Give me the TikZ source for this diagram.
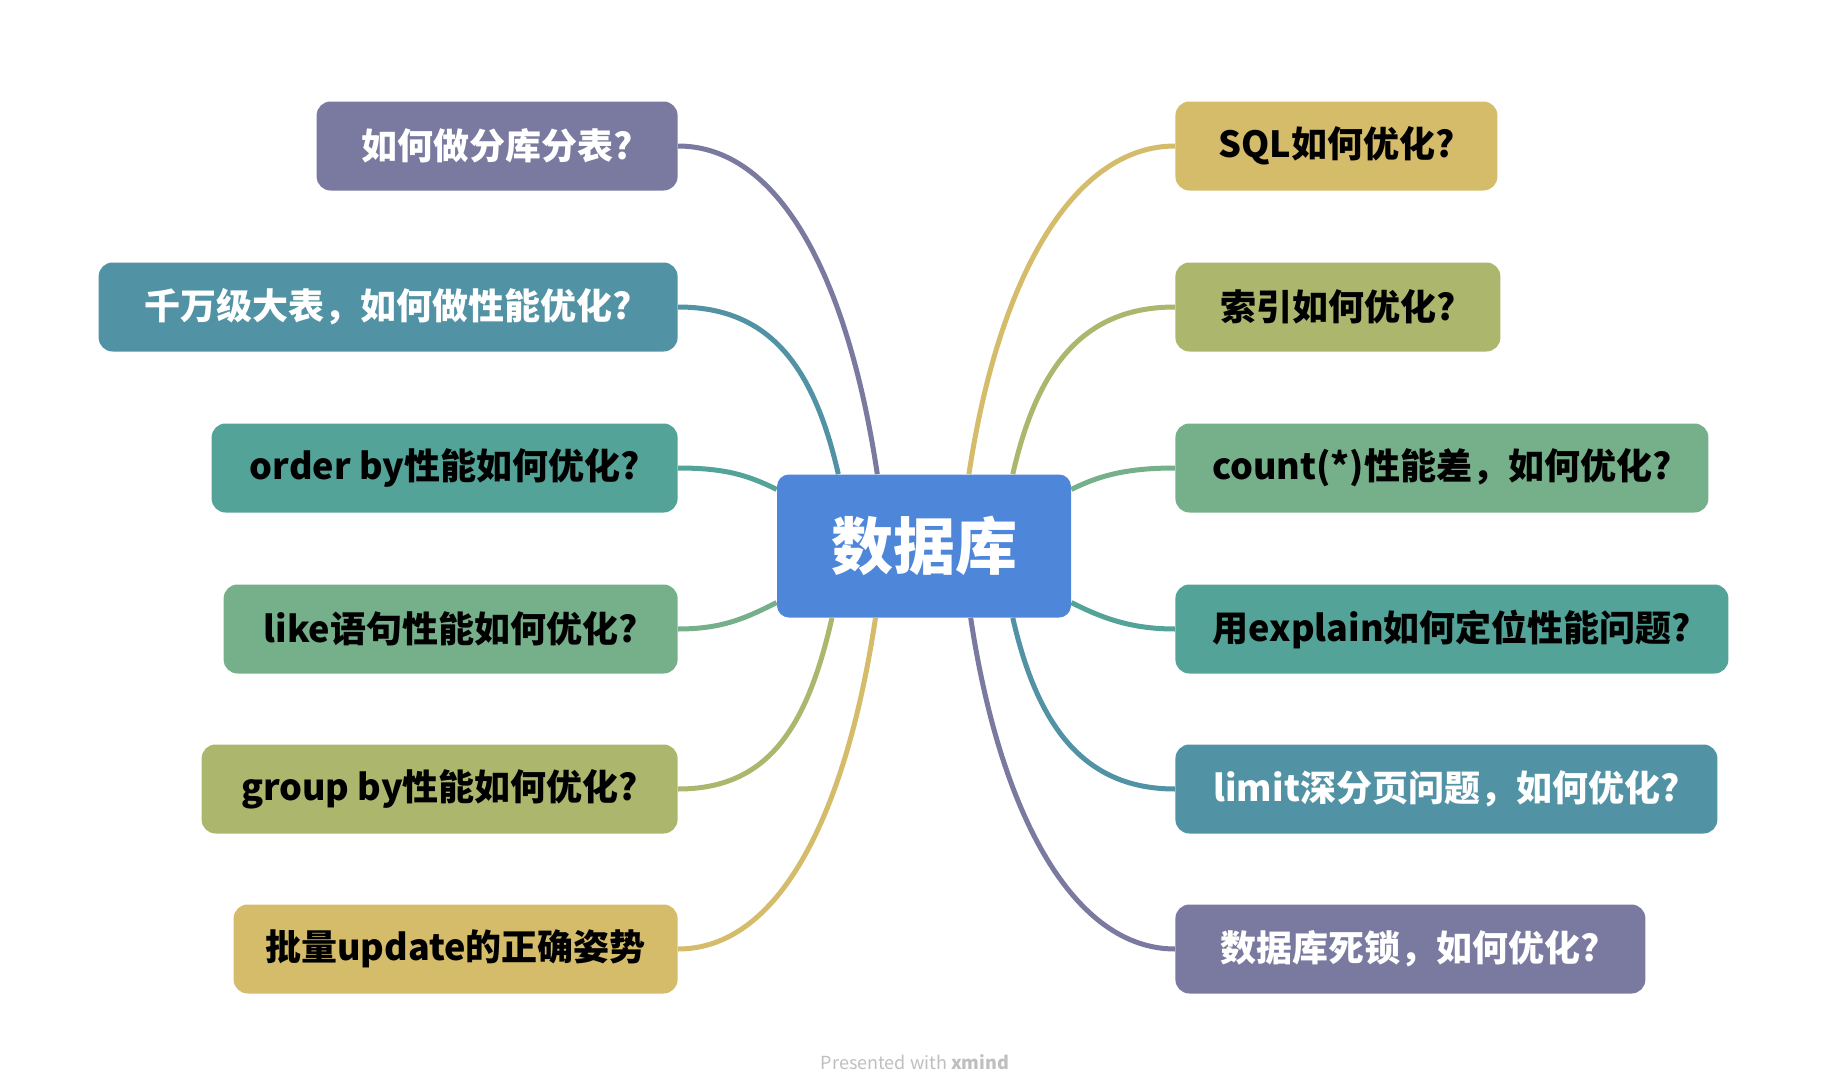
\documentclass[tikz,border=0pt]{standalone}
\usepackage{fontspec}
\setmainfont{Noto Sans CJK SC}
\definecolor{cpurple}{HTML}{7A7AA1}
\definecolor{cblue}{HTML}{5193A5}
\definecolor{cteal}{HTML}{53A398}
\definecolor{cgreen}{HTML}{76B08A}
\definecolor{colive}{HTML}{ADB66D}
\definecolor{cgold}{HTML}{D4BC6B}
\definecolor{cmain}{HTML}{4E86D9}
\begin{document}
\begin{tikzpicture}[x=0.5pt,y=-0.5pt,box/.style={rounded corners=7pt,inner sep=0pt,minimum height=44.5pt,font=\fontsize{18}{18}\selectfont\bfseries},link/.style={line width=2.5pt}]
    \useasboundingbox (0,0) rectangle (1822,1092);
    \node[box,fill=cmain,text=white,minimum width=147pt,minimum height=71.5pt,rounded corners=6pt,font=\fontsize{31}{31}\selectfont\bfseries] (db) at (924,546) {数据库};
    %Nhánh trái
    \foreach \i/\y/\w/\c/\t/\txt in {1/146/180.5/cpurple/white/如何做分库分表?,2/307/289.5/cblue/white/千万级大表，如何做性能优化?,3/468/233/cteal/black/order by性能如何优化?,4/629/227/cgreen/black/like语句性能如何优化?,5/789/238/colive/black/group by性能如何优化?,6/949/222/cgold/black/批量update的正确姿势}
        \node[box,fill=\c,text=\t,minimum width=\w pt,anchor=east] (l\i) at (678,\y) {\txt};
    %Nhánh phải
    \foreach \i/\y/\w/\c/\t/\txt in {1/146/161/cgold/black/SQL如何优化?,2/307/162.5/colive/black/索引如何优化?,3/468/266.5/cgreen/black/{count(*)性能差，如何优化?},4/629/276.5/cteal/black/用explain如何定位性能问题?,5/789/271/cblue/white/limit深分页问题，如何优化?,6/949/235/cpurple/white/数据库死锁，如何优化?}
        \node[box,fill=\c,text=\t,minimum width=\w pt,anchor=west] (r\i) at (1175,\y) {\txt};
    \foreach \i/\a/\c/\p/\q/\r in {1/123/cpurple/100/-30/-200,2/140/cblue/90/-25/-110,3/159/cteal/45/-30/-15,4/201/cgreen/45/-30/15,5/218/colive/90/-25/110,6/236/cgold/100/-30/200}
        \draw[link,\c] (l\i.east) .. controls +(\p,0) and +(\q,\r) .. (db.\a);
    \foreach \i/\a/\c/\p/\q/\r in {1/58/cgold/-100/30/-200,2/39/colive/-90/25/-110,3/21/cgreen/-45/30/-15,4/339/cteal/-45/30/15,5/321/cblue/-90/25/110,6/303/cpurple/-100/30/200}
        \draw[link,\c] (r\i.west) .. controls +(\p,0) and +(\q,\r) .. (db.\a);
    \node[text=black!25,font=\fontsize{9}{9}\selectfont] (foot) at (915,1062) {Presented with {\bfseries xmind}};
\end{tikzpicture}
\end{document}
